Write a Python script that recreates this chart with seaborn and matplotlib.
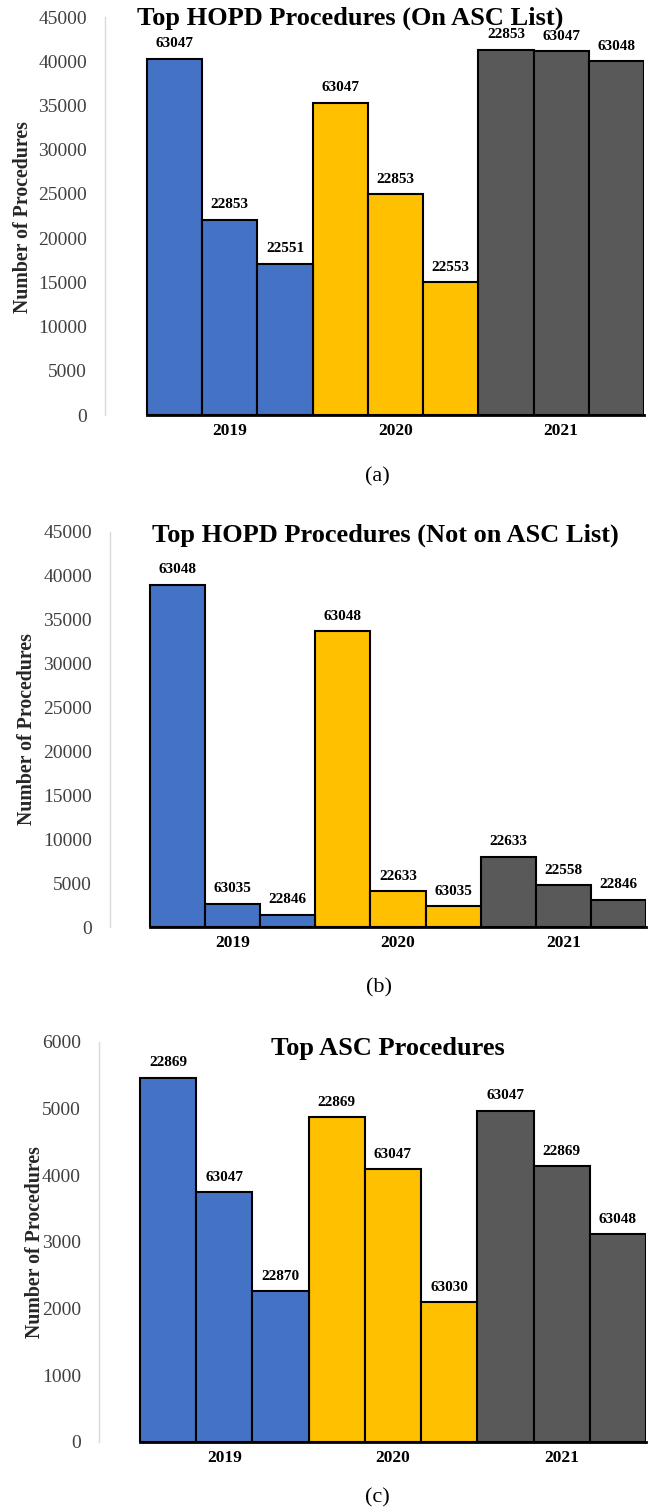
import matplotlib
matplotlib.use("Agg")
import matplotlib.pyplot as plt
import seaborn as sns
import pandas as pd

# years and bar colours (Excel-like)
years = ['2019', '2020', '2021']
year_colors = ['#4472C4', '#FFC000', '#595959']

# (a) Top HOPD procedures, on ASC list
a_counts = [[40300, 22100, 17100], [35300, 25000, 15000], [41300, 41100, 40000]]
a_codes = [['63047', '22853', '22551'], ['63047', '22853', '22553'], ['22853', '63047', '63048']]

# (b) Top HOPD procedures, not on ASC list
b_counts = [[39000, 2650, 1400], [33700, 4050, 2350], [8000, 4750, 3100]]
b_codes = [['63048', '63035', '22846'], ['63048', '22633', '63035'], ['22633', '22558', '22846']]

# (c) Top ASC procedures
c_counts = [[5465, 3745, 2260], [4875, 4095, 2095], [4970, 4140, 3115]]
c_codes = [['22869', '63047', '22870'], ['22869', '63047', '63030'], ['63047', '22869', '63048']]

sns.set_style("white")
plt.rcParams['font.family'] = ['Liberation Serif', 'DejaVu Serif']

W, H = 650, 1512
fig = plt.figure(figsize=(W / 100, H / 100), dpi=100)


def make_df(counts, codes):
    rows = []
    for yi, year in enumerate(years):
        for r in range(3):
            rows.append({'Year': year, 'Rank': f'r{r}', 'Count': counts[yi][r], 'Code': codes[yi][r]})
    return pd.DataFrame(rows)


def draw_panel(counts, codes, rect, xpad, ymax, ystep, title, title_xy, ylab_xy, cap, cap_xy):
    # rect in pixels: (left, top, right, bottom)
    l, t, r, b = rect
    ax = fig.add_axes([l / W, 1 - b / H, (r - l) / W, (b - t) / H])
    df = make_df(counts, codes)
    sns.barplot(data=df, x='Year', y='Count', hue='Rank', width=1.0, dodge=True,
                edgecolor='black', linewidth=1.5, legend=False, ax=ax, saturation=1)
    for ri, cont in enumerate(ax.containers):
        for j, bar in enumerate(cont):
            bar.set_facecolor(year_colors[j])
        ax.bar_label(cont, labels=[codes[j][ri] for j in range(3)], padding=6,
                     fontsize=11, fontweight='bold', color='black')
    ax.set_xlim(-0.5 - xpad, 2.5)
    ax.set_ylim(0, ymax)
    ax.set_yticks(range(0, ymax + 1, ystep))
    ax.set_xlabel('')
    ax.set_ylabel('')
    for s in ['top', 'right']:
        ax.spines[s].set_visible(False)
    ax.spines['left'].set_color('#d9d9d9')
    ax.spines['left'].set_linewidth(1)
    ax.spines['bottom'].set_color('black')
    ax.spines['bottom'].set_linewidth(2)
    ax.spines['bottom'].set_bounds(-0.5, 2.5)
    ax.tick_params(axis='y', length=0, pad=13, labelsize=14, labelcolor='#404040')
    ax.tick_params(axis='x', length=0, pad=6, labelsize=12.5, labelcolor='black')
    for lab in ax.get_xticklabels():
        lab.set_fontweight('bold')
    ax.grid(False)
    fig.text(title_xy[0] / W, 1 - title_xy[1] / H, title, ha='center', va='center',
             fontsize=19, fontweight='bold', color='black')
    fig.text(ylab_xy[0] / W, 1 - ylab_xy[1] / H, 'Number of Procedures', ha='center',
             va='center', rotation=90, fontsize=14.3, fontweight='bold', color='#262626')
    fig.text(cap_xy[0] / W, 1 - cap_xy[1] / H, cap, ha='center', va='center',
             fontsize=16, color='black')
    return ax


draw_panel(a_counts, a_codes, (105, 17, 644, 415), 0.2535, 45000, 5000,
           'Top HOPD Procedures (On ASC List)', (350, 18), (23, 217), '(a)', (377, 477))
draw_panel(b_counts, b_codes, (110, 532, 646, 927), 0.242, 45000, 5000,
           'Top HOPD Procedures (Not on ASC List)', (385, 535), (27, 729), '(b)', (379, 988))
draw_panel(c_counts, c_codes, (99, 1042, 646, 1442), 0.243, 6000, 1000,
           'Top ASC Procedures', (388, 1048), (35, 1242), '(c)', (377, 1498))

fig.savefig('out.png', dpi=100)
